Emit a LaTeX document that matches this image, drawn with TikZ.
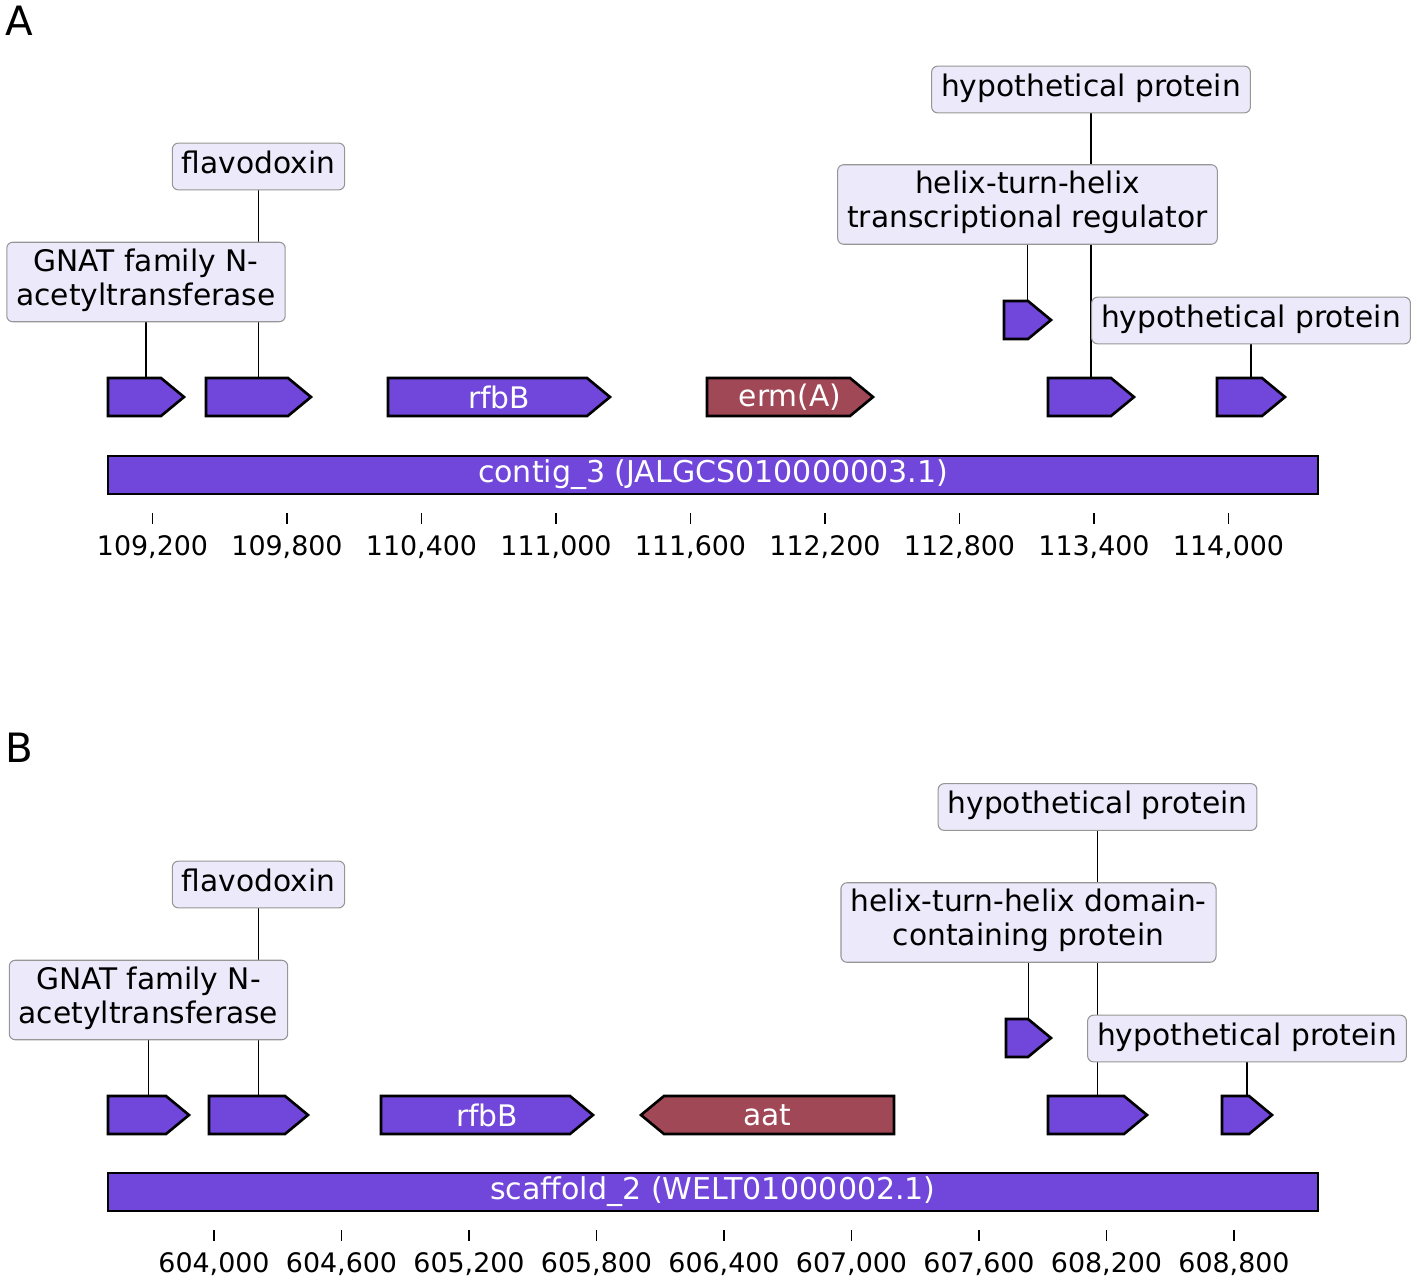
\documentclass[tikz,border=0pt]{standalone}
\usepackage{fontspec}
\setmainfont{DejaVu Sans}
\usepackage{tikz}
\usetikzlibrary{backgrounds}

\definecolor{geneColor}{RGB}{113,70,219}
\definecolor{resColor}{RGB}{161,72,87}
\definecolor{boxColor}{RGB}{236,234,250}
\definecolor{boxEdge}{RGB}{150,150,150}

\newcommand{\lblfont}{\fontsize{16.9}{19.4}\selectfont}
\newcommand{\barfont}{\fontsize{17.1}{19.6}\selectfont}
\newcommand{\tickfont}{\fontsize{15.3}{17.5}\selectfont}
\newcommand{\panelfont}{\fontsize{23}{27}\selectfont}

% gene arrows: name, start, end, row, colour, text
\newcommand{\fwdgene}[6]{%
  \draw[genepath,fill=#5] (#2,#4-19) -- (#3-23,#4-19) -- (#3,#4) -- (#3-23,#4+19) -- (#2,#4+19) -- cycle;
  \node[genetext,minimum width={(#3-#2)*0.02cm}] (#1) at ({(#2+#3)/2},#4) {#6};}
\newcommand{\revgene}[6]{%
  \draw[genepath,fill=#5] (#3,#4-19) -- (#2+23,#4-19) -- (#2,#4) -- (#2+23,#4+19) -- (#3,#4+19) -- cycle;
  \node[genetext,minimum width={(#3-#2)*0.02cm}] (#1) at ({(#2+#3)/2},#4) {#6};}

\begin{document}
\begin{tikzpicture}[x=0.02cm,y=-0.02cm,
  genepath/.style={draw=black,line width=1.5pt},
  genetext/.style={inner sep=0pt,minimum height=0.76cm,text=white,font=\lblfont},
  lbl/.style={draw=boxEdge,fill=boxColor,line width=0.6pt,rounded corners=3.4pt,
    inner xsep=5.4pt,inner ysep=3.6pt,align=center,font=\lblfont,execute at begin node=\strut},
  stem/.style={line width=0.85pt,black},
  bar/.style={draw=black,line width=1.5pt,fill=geneColor,text=white,font=\barfont,
    minimum width=24.2cm,minimum height=0.76cm,inner sep=0pt},
  tick/.style={line width=0.9pt,black},
  ticklbl/.style={anchor=base,inner sep=0pt,font=\tickfont},
  panel/.style={anchor=base west,inner sep=0pt,font=\panelfont}]
\useasboundingbox (0,0) rectangle (1417,1281);

% ---- panel A
\node[panel] (pA) at (5,35) {A};
\fwdgene{gA1}{108}{184}{397}{geneColor}{}
\fwdgene{gA2}{206}{311}{397}{geneColor}{}
\fwdgene{gA3}{388}{610}{397}{geneColor}{rfbB}
\fwdgene{gA4}{707}{873}{397}{resColor}{erm(A)}
\fwdgene{gA5}{1004}{1051}{320}{geneColor}{}
\fwdgene{gA6}{1048}{1134}{397}{geneColor}{}
\fwdgene{gA7}{1217}{1285}{397}{geneColor}{}
\node[lbl] (fA) at (gA2 |- 0,166.5) {flavodoxin};
\node[lbl] (nA) at (gA1 |- 0,282) {GNAT family N-\\acetyltransferase};
\node[lbl] (hA1) at (gA6 |- 0,89.5) {hypothetical protein};
\node[lbl] (tA) at (gA5 |- 0,204.5) {helix-turn-helix\\transcriptional regulator};
\node[lbl] (hA2) at (gA7 |- 0,320.5) {hypothetical protein};
\begin{pgfonlayer}{background}
  \draw[stem] (fA.south) -- (gA2.north);
  \draw[stem] (nA.south) -- (gA1.north);
  \draw[stem] (hA1.south) -- (gA6.north);
  \draw[stem] (tA.south) -- (gA5.north);
  \draw[stem] (hA2.south) -- (gA7.north);
\end{pgfonlayer}
\node[bar] (cA) at (713,475) {contig\_3 (JALGCS010000003.1)};
\foreach \lbl [count=\i from 0] in {{109,200},{109,800},{110,400},{111,000},{111,600},{112,200},{112,800},{113,400},{114,000}} {
  \draw[tick] (152.5+134.5*\i,513) -- ++(0,11);
  \node[ticklbl] (xA\i) at (152.5+134.5*\i,555) {\lbl};
}

% ---- panel B
\node[panel] (pB) at (5,762) {B};
\fwdgene{gB1}{108}{189}{1115}{geneColor}{}
\fwdgene{gB2}{209}{308}{1115}{geneColor}{}
\fwdgene{gB3}{381}{593}{1115}{geneColor}{rfbB}
\revgene{gB4}{641}{894}{1115}{resColor}{aat}
\fwdgene{gB5}{1006}{1051}{1038}{geneColor}{}
\fwdgene{gB6}{1048}{1147}{1115}{geneColor}{}
\fwdgene{gB7}{1222}{1272}{1115}{geneColor}{}
\node[lbl] (fB) at (gB2 |- 0,884.5) {flavodoxin};
\node[lbl] (nB) at (gB1 |- 0,1000) {GNAT family N-\\acetyltransferase};
\node[lbl] (hB1) at (gB6 |- 0,807) {hypothetical protein};
\node[lbl] (tB) at (gB5 |- 0,922.5) {helix-turn-helix domain-\\containing protein};
\node[lbl] (hB2) at (gB7 |- 0,1038.5) {hypothetical protein};
\begin{pgfonlayer}{background}
  \draw[stem] (fB.south) -- (gB2.north);
  \draw[stem] (nB.south) -- (gB1.north);
  \draw[stem] (hB1.south) -- (gB6.north);
  \draw[stem] (tB.south) -- (gB5.north);
  \draw[stem] (hB2.south) -- (gB7.north);
\end{pgfonlayer}
\node[bar] (cB) at (713,1192) {scaffold\_2 (WELT01000002.1)};
\foreach \lbl [count=\i from 0] in {{604,000},{604,600},{605,200},{605,800},{606,400},{607,000},{607,600},{608,200},{608,800}} {
  \draw[tick] (214+127.5*\i,1230) -- ++(0,11);
  \node[ticklbl] (xB\i) at (214+127.5*\i,1272) {\lbl};
}
\end{tikzpicture}
\end{document}
